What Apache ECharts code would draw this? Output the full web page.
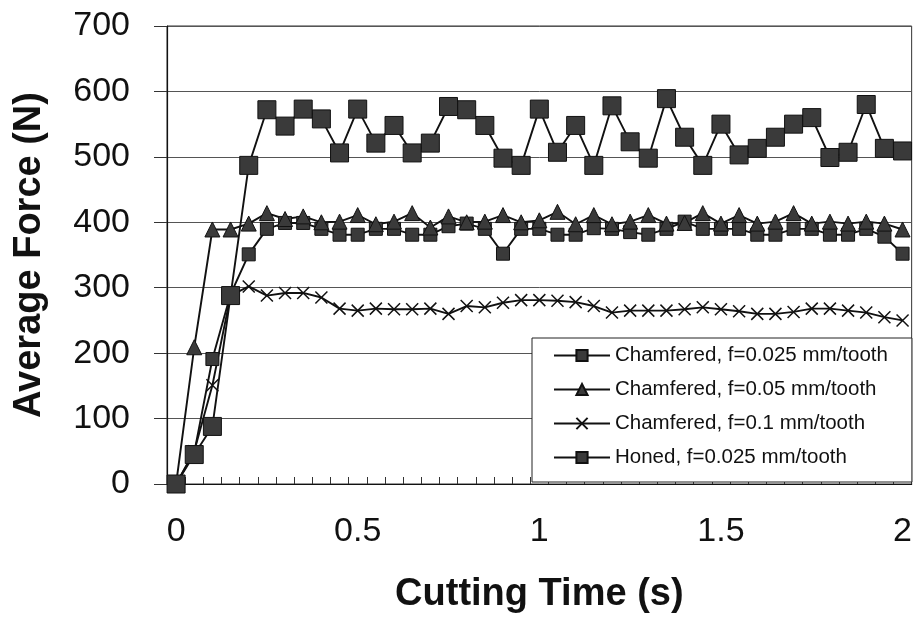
<!DOCTYPE html>
<html>
<head>
<meta charset="utf-8">
<script src="https://cdn.jsdelivr.net/npm/echarts@6/dist/echarts.min.js"></script>
<style>
html,body{margin:0;padding:0;background:#fff;}
#chart{width:915px;height:619px;}
</style>
</head>
<body>
<div id="chart"></div>
<script>
const categories = ["0","0.05","0.1","0.15","0.2","0.25","0.3","0.35","0.4","0.45","0.5","0.55","0.6","0.65","0.7","0.75","0.8","0.85","0.9","0.95","1","1.05","1.1","1.15","1.2","1.25","1.3","1.35","1.4","1.45","1.5","1.55","1.6","1.65","1.7","1.75","1.8","1.85","1.9","1.95","2"];
const yTicks = [0,100,200,300,400,500,600,700];
const seriesNames = ["Chamfered, f=0.025 mm/tooth","Chamfered, f=0.05 mm/tooth","Chamfered, f=0.1 mm/tooth","Honed, f=0.025 mm/tooth"];
const chamfered025 = [0,48,191,290,351,390,399,399,390,381,381,390,390,381,381,394,398,390,352,390,390,381,381,391,390,385,381,390,401,390,390,390,381,381,390,390,381,381,390,378,352];
const chamfered05 = [0,209,389,389,398,414,405,409,400,401,411,397,401,414,392,409,400,401,411,400,403,416,397,411,397,401,411,398,399,414,398,411,398,401,414,398,401,398,401,398,389];
const chamfered1 = [0,50,151,288,302,288,292,292,285,268,265,268,267,267,268,260,272,270,277,281,281,280,278,272,262,265,265,265,267,270,267,264,260,260,263,268,268,265,262,255,250];
const honed025 = [0,45,88,288,487,572,547,573,558,506,573,521,548,506,521,577,572,548,498,487,573,507,548,487,578,523,498,589,530,487,550,503,513,530,550,560,499,507,580,513,509];

const FONT = '"Liberation Sans", Arial, sans-serif';
const chart = echarts.init(document.getElementById('chart'), null, {renderer:'canvas'});
const lineStyle = {color:'#111', width:1.9};
function mk(name, data, symbol, size, extra) {
  return Object.assign({
    name: name, type: 'line', data: data, symbol: symbol, symbolSize: size,
    showAllSymbol: true, animation: false,
    lineStyle: lineStyle,
    itemStyle: {color:'#3a3a3a', borderColor:'#111', borderWidth:1},
    emphasis: {disabled: true}
  }, extra || {});
}
chart.setOption({
  backgroundColor: '#fff',
  animation: false,
  grid: {left:167, right:2, top:26, bottom:132, show:true, borderColor:'#333', borderWidth:1, backgroundColor:'transparent'},
  legend: {
    orient:'vertical', left:532, top:338,
    padding:[7,24,14,21], itemGap:13, itemWidth:56, itemHeight:14,
    backgroundColor:'#fff', borderColor:'#222', borderWidth:1,
    textStyle:{fontFamily:FONT, fontSize:20.5, color:'#111', lineHeight:20},
    data: seriesNames
  },
  xAxis: {
    type:'category', data: categories, boundaryGap:true,
    name:'Cutting Time (s)', nameLocation:'middle', nameGap:92,
    nameTextStyle:{fontFamily:FONT, fontSize:38, fontWeight:'bold', color:'#111'},
    axisLine:{lineStyle:{color:'#111', width:1.2}},
    axisTick:{show:true, inside:true, length:7, interval:0, lineStyle:{color:'#333'}},
    axisLabel:{interval:9, margin:31, fontFamily:FONT, fontSize:34, color:'#111'},
    splitLine:{show:false}
  },
  yAxis: {
    type:'value', min:yTicks[0], max:yTicks[yTicks.length-1], interval:100,
    name:'Average Force (N)', nameLocation:'middle', nameGap:118,
    nameTextStyle:{fontFamily:FONT, fontSize:38, fontWeight:'bold', color:'#111'},
    axisLine:{show:true, lineStyle:{color:'#111', width:1.2}},
    axisTick:{show:true, length:13, lineStyle:{color:'#333'}},
    axisLabel:{margin:37, fontFamily:FONT, fontSize:34, color:'#111'},
    splitLine:{show:true, lineStyle:{color:'#555', width:1}}
  },
  series: [
    mk(seriesNames[0], chamfered025, 'rect', 13),
    mk(seriesNames[1], chamfered05, 'triangle', 15),
    mk(seriesNames[2], chamfered1, 'path://M0,0L10,10M10,0L0,10', 12,
       {itemStyle:{color:'none', borderColor:'#111', borderWidth:1.5}}),
    mk(seriesNames[3], honed025, 'rect', 18)
  ]
});
</script>
</body>
</html>
